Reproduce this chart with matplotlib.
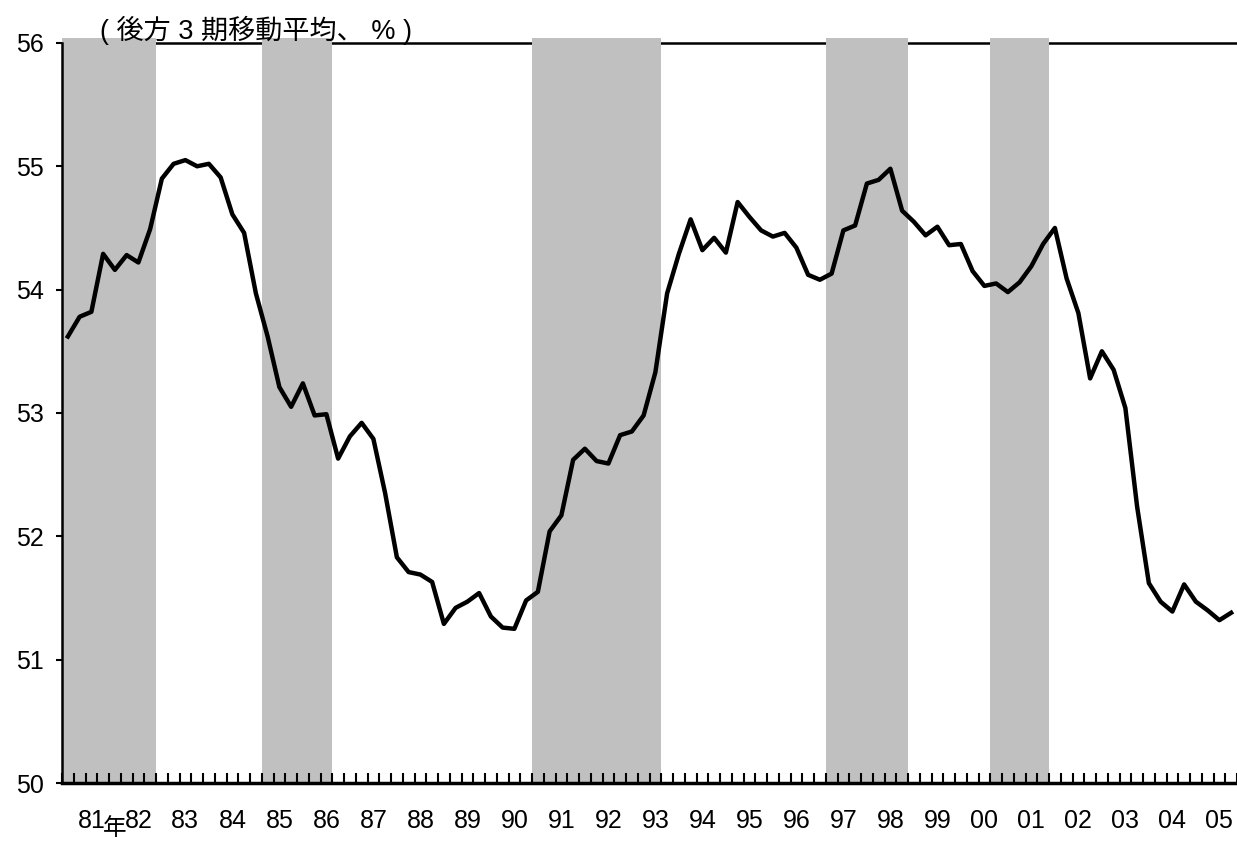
import numpy as np
import matplotlib
matplotlib.use('Agg')
from matplotlib import pyplot as plt
from matplotlib.ticker import FixedLocator

plt.rcParams['font.family'] = ['Liberation Sans', 'Noto Sans CJK JP']

# quarterly values, 1981Q1 - 2005Q4 (3-quarter trailing moving average, %)
values = [
    53.62, 53.78, 53.82, 54.29, 54.16, 54.28, 54.22, 54.49,   # 81-82
    54.90, 55.02, 55.05, 55.00, 55.02, 54.91, 54.61, 54.46,   # 83-84
    53.97, 53.62, 53.21, 53.05, 53.24, 52.98, 52.99, 52.63,   # 85-86
    52.81, 52.92, 52.79, 52.35, 51.83, 51.71, 51.69, 51.63,   # 87-88
    51.29, 51.42, 51.47, 51.54, 51.35, 51.26, 51.25, 51.48,   # 89-90
    51.55, 52.04, 52.17, 52.62, 52.71, 52.61, 52.59, 52.82,   # 91-92
    52.85, 52.98, 53.33, 53.97, 54.29, 54.57, 54.32, 54.42,   # 93-94
    54.30, 54.71, 54.59, 54.48, 54.43, 54.46, 54.34, 54.12,   # 95-96
    54.08, 54.13, 54.48, 54.52, 54.86, 54.89, 54.98, 54.64,   # 97-98
    54.55, 54.44, 54.51, 54.36, 54.37, 54.15, 54.03, 54.05,   # 99-00
    53.98, 54.06, 54.19, 54.37, 54.50, 54.09, 53.81, 53.28,   # 01-02
    53.50, 53.35, 53.04, 52.24, 51.62, 51.47, 51.39, 51.61,   # 03-04
    51.47, 51.40, 51.32, 51.38,                               # 05
]
years = ['81', '82', '83', '84', '85', '86', '87', '88', '89', '90',
         '91', '92', '93', '94', '95', '96', '97', '98', '99', '00',
         '01', '02', '03', '04', '05']
# shaded periods as (first quarter index, quarter index after the end)
recessions = [(0, 8), (17, 23), (40, 51), (65, 72), (79, 84)]

x = np.arange(len(values))

fig = plt.figure(figsize=(12.37, 8.41), dpi=100)
ax = fig.add_axes([62 / 1237, 1 - 783 / 841, 1 - 62 / 1237, (783 - 38) / 841])
ax.set_axisbelow(False)

for a, b in recessions:
    ax.axvspan(a - 0.5, b - 0.5, color='#c0c0c0', lw=0, zorder=2)
ax.axhline(56, color='black', lw=1.8, zorder=1)
ax.plot(x, values, color='black', lw=3.2, zorder=3)

ax.set_xlim(-0.5, len(values) - 0.5)
ax.set_ylim(50, 56.04)

ax.spines['top'].set_visible(False)
ax.spines['right'].set_visible(False)
ax.spines['left'].set_bounds(50, 56)
ax.spines['left'].set_linewidth(1.8)
ax.spines['bottom'].set_linewidth(2.5)

ax.set_yticks(range(50, 57))
ax.tick_params(axis='y', direction='out', length=4, width=1.5, labelsize=18, pad=9)

ax.set_xticks(np.arange(2, len(values), 4))
ax.set_xticklabels(years, fontsize=18)
ax.xaxis.set_minor_locator(FixedLocator(np.arange(-0.5, len(values), 1)))
ax.tick_params(axis='x', which='major', length=0, pad=19)
ax.tick_params(axis='x', which='minor', direction='in', length=7, width=1.5)

fig.text(100 / 1237, 1 - 30 / 841, '( 後方 3 期移動平均、 % )', fontsize=19.5,
         ha='left', va='center')
fig.text(115 / 1237, 1 - 840 / 841, '年', fontsize=17,
         ha='center', va='bottom', family=['Noto Sans CJK JP'])

fig.savefig('out.png', dpi=100)
